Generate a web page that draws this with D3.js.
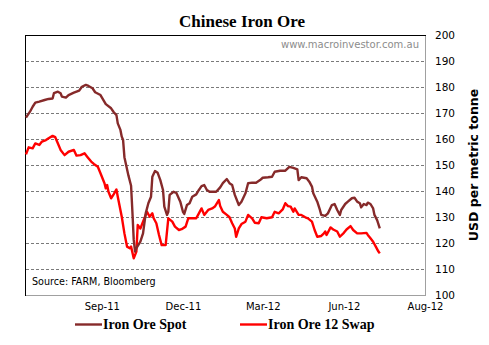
<!DOCTYPE html>
<html><head><meta charset="utf-8">
<script src="https://cdn.jsdelivr.net/npm/d3@7"></script>
<style>
html,body{margin:0;padding:0;background:#fff;}
svg{display:block;}
</style></head>
<body>
<script>
// ---- data (x = trading-day index from start of chart) ----
const spotX = [0,3,5,7,10,14,17,20,21,24,26,27,30,32,36,40,42,45,47,50,52,56,60,64,66,68,69,71,72,73,74,77,79,80,81,82,83,86,88,90,92,94,95,97,99,101,103,104,106,107,108,111,113,116,118,119,121,123,125,128,130,132,134,136,138,143,146,148,151,153,155,157,160,162,165,167,170,173,176,178,182,185,187,191,195,198,201,204,205,207,211,213,215,216,219,221,222,225,227,230,232,234,236,237,240,242,245,247,249,251,252,254,256,257,259,261,262,264,266];
const spotY = [168.2,170.5,172.4,174,174.4,175,175.4,175.6,177.6,178.2,177.6,176.3,175.9,176.9,177.8,178.6,180.1,180.8,180.4,179.5,178,176.9,173.4,171.8,170.3,169.2,166,163.5,160.9,159.6,153,146,142,132,121.2,116.7,118,120.5,123.7,131.4,135.3,137.8,145.5,147.7,147,144.2,140.4,134,130.8,132,138.5,139.7,139.3,135.9,132,131.2,134.6,135.3,137.8,138.7,140.4,141.9,142.3,140.4,139.7,139.7,141.4,143,144.6,143,142.3,138.5,134.6,135.9,139.1,143,143.2,143.2,144.2,145.1,145.3,145.5,147.4,147.8,147.8,149.3,148.9,148.3,144.2,145.3,144.9,143.6,141.7,139.1,135.9,132.7,130.8,130.4,131.4,134.6,135,132.7,130.8,132.7,135,135.9,137.2,137.4,135.9,135.3,133.7,135,134.6,135.5,135,133.3,130.8,128.8,125.6];
const swapX = [0,2,5,7,10,12,15,17,20,22,24,26,29,32,36,38,41,44,46,49,51,54,56,59,60,61,62,64,66,68,69,72,74,76,78,79,81,83,84,86,88,91,93,95,96,98,100,102,105,107,110,112,115,117,120,122,125,128,130,132,134,137,140,142,145,146,148,151,153,155,157,158,160,162,165,167,170,172,175,177,181,185,187,190,193,195,197,199,201,202,205,207,210,212,215,217,219,222,224,225,226,229,231,234,236,239,241,244,246,249,252,256,257,259,261,263,265,266];
const swapY = [154.1,156.8,156.4,158.3,157.7,159,159.6,160.3,161.2,160.7,158.3,155.8,153.8,155.1,155.8,153.6,153.8,154.5,153.2,151.3,150.4,149.3,146.8,143,141,142.3,139.7,137.2,138.8,140.6,137.8,130.1,123.7,118.6,118,118.6,114.1,116.7,126.9,125.6,128.2,132,130.1,131.4,129.5,127.6,123.1,119.2,119.2,129.5,128.2,126.3,125,125.3,126.3,129.5,129.5,129.5,131.4,133.3,130.8,132.7,133.3,134,136.5,134.2,132,130.8,129.9,127.6,125.6,122.4,125.6,127.3,128.2,130.8,129.5,127.8,127.6,129.9,129.5,129.9,132,131.4,132.9,135.3,134.2,134,132,133.3,130.8,130.8,129.9,129.5,128.2,125,122.4,122.7,123.7,124.4,123.1,126,125.2,124.4,122.4,123.9,125.2,126.5,125,123.7,123.7,123.9,123.1,121.8,120.5,118.6,116.7,116];
const xTickVals = [57,118,178,239,300];
const xTickLabels = ["Sep-11","Dec-11","Mar-12","Jun-12","Aug-12"];
const yTicks = [100,110,120,130,140,150,160,170,180,190,200];
const seriesNames = ["Iron Ore Spot","Iron Ore 12 Swap"];
const seriesColors = ["#862a2a","#ff0000"];

const W = 489, H = 345;
const L = 26, R = 425, T = 35, B = 295;
const svg = d3.select("body").append("svg").attr("width", W).attr("height", H);

const x = d3.scaleLinear().domain([0,300]).range([L,R]);
const y = d3.scaleLinear().domain([100,200]).range([B,T]);

// title
svg.append("text").attr("x",242).attr("y",27).attr("text-anchor","middle")
  .attr("font-family","'Liberation Serif', serif").attr("font-weight","bold").attr("font-size",17)
  .text("Chinese Iron Ore");

// gridlines
svg.append("g").selectAll("line").data(yTicks.filter(d=>d>100 && d<200)).join("line")
  .attr("x1",L).attr("x2",R).attr("y1",d=>Math.round(y(d))+0.5).attr("y2",d=>Math.round(y(d))+0.5)
  .attr("stroke","#7a7a7a").attr("stroke-width",1).attr("stroke-dasharray","3,2");

// borders
svg.append("line").attr("x1",L).attr("x2",R).attr("y1",B+0.5).attr("y2",B+0.5).attr("stroke","#a0a0a0");
svg.append("line").attr("x1",R+0.5).attr("x2",R+0.5).attr("y1",T).attr("y2",B+1).attr("stroke","#a0a0a0");
svg.append("line").attr("x1",L).attr("x2",R+1).attr("y1",T+0.5).attr("y2",T+0.5).attr("stroke","#000");
svg.append("line").attr("x1",L-0.5).attr("x2",L-0.5).attr("y1",T).attr("y2",B+1).attr("stroke","#000");

// y axis (right)
const yAxis = d3.axisRight(y).tickValues(yTicks).tickSize(0).tickPadding(10);
const gy = svg.append("g").attr("transform",`translate(${R},0)`).call(yAxis);
gy.select(".domain").remove();
gy.selectAll("text").attr("font-family","'DejaVu Sans', sans-serif").attr("font-size",10.5).attr("fill","#000");

// x axis
const xAxis = d3.axisBottom(x).tickValues(xTickVals).tickFormat((d,i)=>xTickLabels[i]).tickSize(0).tickPadding(8);
const gx = svg.append("g").attr("transform",`translate(0,${B})`).call(xAxis);
gx.select(".domain").remove();
gx.selectAll("text").attr("font-family","'DejaVu Sans', sans-serif").attr("font-size",10).attr("fill","#000");

// y title
svg.append("text").attr("transform",`translate(478,165) rotate(-90)`).attr("text-anchor","middle")
  .attr("font-family","'DejaVu Sans', sans-serif").attr("font-weight","bold").attr("font-size",12.5)
  .text("USD per metric tonne");

// watermark
svg.append("text").attr("x",419).attr("y",48).attr("text-anchor","end")
  .attr("font-family","'DejaVu Sans', sans-serif").attr("font-size",10).attr("fill","#8c8c8c")
  .text("www.macroinvestor.com.au");

// source
svg.append("text").attr("x",32).attr("y",285)
  .attr("font-family","'DejaVu Sans', sans-serif").attr("font-size",9.6).attr("fill","#000")
  .text("Source: FARM, Bloomberg");

// lines
const line = d3.line().x(d=>x(d[0])).y(d=>y(d[1]));
const spot = spotX.map((d,i)=>[d,spotY[i]]);
const swap = swapX.map((d,i)=>[d,swapY[i]]);
svg.append("path").datum(swap).attr("d",line).attr("fill","none").attr("stroke",seriesColors[1])
  .attr("stroke-width",2.4).attr("stroke-linejoin","round");
svg.append("path").datum(spot).attr("d",line).attr("fill","none").attr("stroke",seriesColors[0])
  .attr("stroke-width",2.4).attr("stroke-linejoin","round");

// legend
const legX = [75,240];
const lg = svg.append("g").selectAll("g").data(seriesNames).join("g")
  .attr("transform",(d,i)=>`translate(${legX[i]},0)`);
lg.append("line").attr("x1",0).attr("x2",27).attr("y1",324.5).attr("y2",324.5)
  .attr("stroke",(d,i)=>seriesColors[i]).attr("stroke-width",2.4);
lg.append("text").attr("x",28).attr("y",329)
  .attr("font-family","'Liberation Serif', serif").attr("font-weight","bold").attr("font-size",14)
  .text(d=>d);
</script>
</body></html>
